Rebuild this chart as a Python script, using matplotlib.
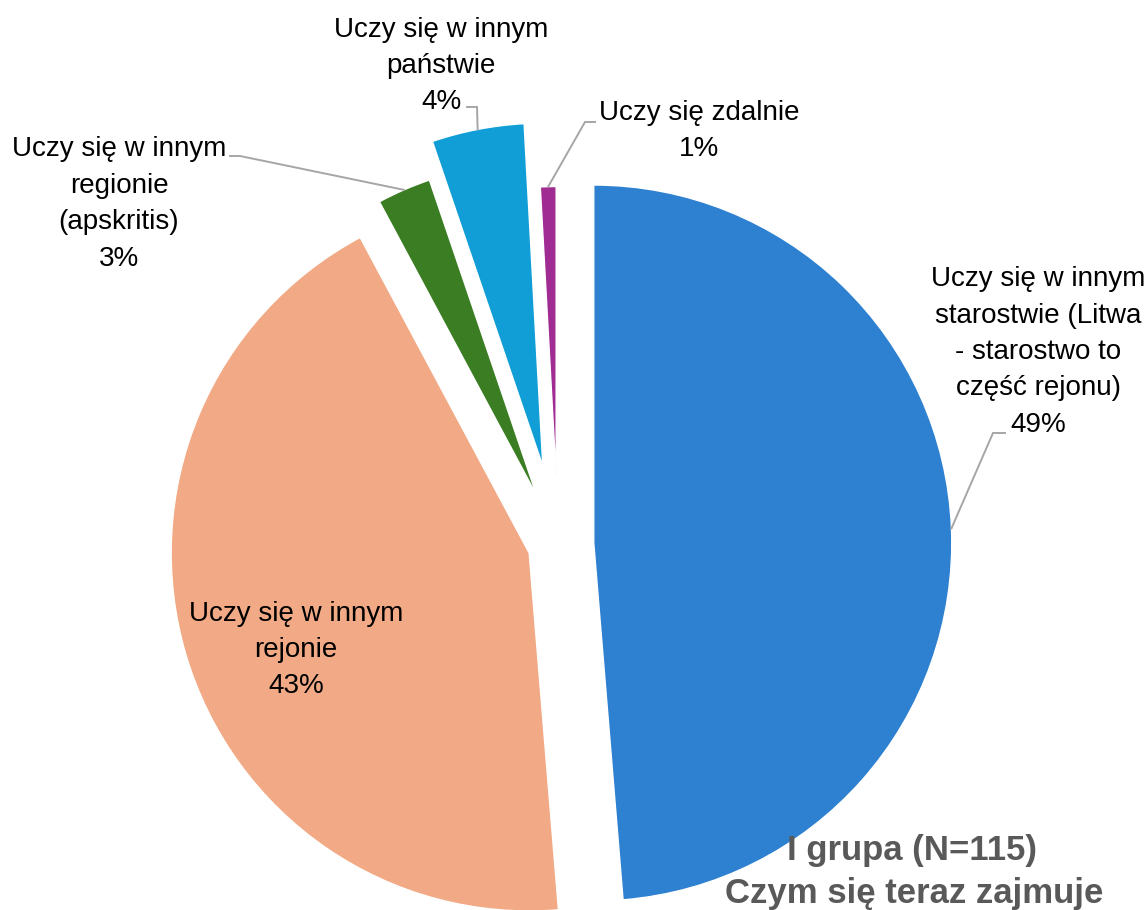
import numpy as np
import matplotlib
matplotlib.use("Agg")
import matplotlib.pyplot as plt

# data (N=115)
categories = [
    "Uczy się w innym\nstarostwie (Litwa\n- starostwo to\nczęść rejonu)",
    "Uczy się w innym\nrejonie",
    "Uczy się w innym\nregionie\n(apskritis)",
    "Uczy się w innym\npaństwie",
    "Uczy się zdalnie",
]
counts = [56, 50, 3, 5, 1]
colors = ["#2E80D0", "#F1AA85", "#3B7D23", "#119ED6", "#A02B93"]
title_lines = ["I grupa (N=115)", "Czym się teraz zajmuje"]

# style / layout
explode = [0.10, 0.084, 0.15, 0.223, 0.19]
radius_scale = [1.0, 1.0, 0.93, 0.958, 0.81]
W, H = 1147, 910
CX, CY, R = 558, 544.5, 358  # pie centre and radius in pixels


def px(x, y):
    # pixel position (from top-left) -> data coords
    return (x - CX) / R, (CY - y) / R


plt.rcParams["font.family"] = ["Liberation Sans", "DejaVu Sans"]
fig = plt.figure(figsize=(W / 100, H / 100), dpi=100)
ax = fig.add_axes([0, 0, 1, 1])

wedges, _ = ax.pie(counts, colors=colors, startangle=90, counterclock=False,
                   explode=explode, radius=1,
                   wedgeprops=dict(edgecolor="white", linewidth=1))
for w, s in zip(wedges, radius_scale):
    w.set_radius(s)

ax.set_xlim(-CX / R, (W - CX) / R)
ax.set_ylim((CY - H) / R, CY / R)
ax.set_aspect("equal")
ax.axis("off")

total = sum(counts)
pct = [f"{round(100 * c / total)}%" for c in counts]

# label centre, leader elbow, leader end (pixels); None = inside label
label_pos = [(1038, 352), (296, 650), (119, 204), (441, 66), (699, 131)]
leaders = [((993, 433), (1005, 433)), None, ((240, 156), (230, 156)),
           ((477, 107), (467, 107)), ((585, 122), (595, 122))]

for w, cat, p, pos, ld in zip(wedges, categories, pct, label_pos, leaders):
    ax.text(*px(*pos), f"{cat}\n{p}", ha="center", va="center",
            fontsize=20, color="#000000", linespacing=1.52)
    if ld is not None:
        mid = np.deg2rad((w.theta1 + w.theta2) / 2)
        ax0 = w.center[0] + w.r * np.cos(mid)
        ay0 = w.center[1] + w.r * np.sin(mid)
        ex, ey = px(*ld[0])
        tx, ty = px(*ld[1])
        ax.plot([ax0, ex, tx], [ay0, ey, ty], color="#A6A6A6", lw=1.4,
                solid_joinstyle="miter")

fig.text(912 / W, 1 - 860 / H, title_lines[0], ha="center", va="baseline",
         fontsize=25, fontweight="bold", color="#595959")
fig.text(914 / W, 1 - 903 / H, title_lines[1], ha="center", va="baseline",
         fontsize=25, fontweight="bold", color="#595959")

fig.savefig("out.png", dpi=100)
